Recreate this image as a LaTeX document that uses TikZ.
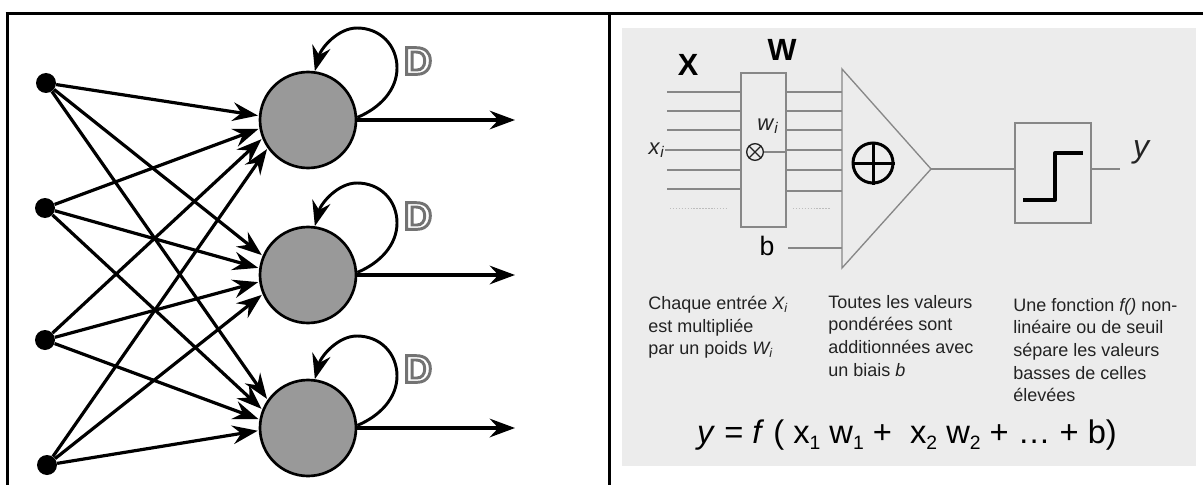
\documentclass[tikz,border=0pt]{standalone}
\usepackage{fontspec}
\setmainfont{Liberation Sans}
\usetikzlibrary{arrows.meta,calc}
\definecolor{panelbg}{RGB}{236,236,236}
\definecolor{wire}{RGB}{135,135,135}
\definecolor{neuron}{RGB}{153,153,153}
\definecolor{txt}{RGB}{35,35,35}
\newcommand\outlineD{{\color{white}\special{pdf:literal direct 2 Tr 0.45 0.45 0.45 RG 2.2 w}D\special{pdf:literal direct 0 Tr}}}
\newcommand\lowsub[1]{\raisebox{-0.19em}{\fontsize{14.5pt}{14.5pt}\selectfont #1}}
\newcommand\selfloop[2]{%
  \draw[loopst] (#1.3) .. controls ($(#1.center)+(72,-12)$) and ($(#1.center)+(89,-30)$) .. ($(#1.center)+(89,-52)$)
     .. controls ($(#1.center)+(89,-75)$) and ($(#1.center)+(72,-92)$) .. ($(#1.center)+(49,-92)$)
     .. controls ($(#1.center)+(30,-92)$) and ($(#1.center)+(13,-72)$) .. (#1.82);
  \node[dlabel] (#2) at ($(#1.center)+(110,-59)$) {\outlineD};}
\begin{document}
\begin{tikzpicture}[x=0.75pt,y=-0.75pt,
  tableline/.style={line width=2.25pt,black},
  inpt/.style={circle,fill=black,inner sep=0pt,minimum size=15pt},
  neu/.style={circle,draw=black,line width=2pt,fill=neuron,inner sep=0pt,minimum size=72pt},
  tip/.style={-{Stealth[length=19pt,width=14pt,inset=6.5pt]}},
  syn/.style={line width=2.4pt,tip,shorten >=0.75pt},
  outarr/.style={line width=2.4pt,tip},
  loopst/.style={line width=2.2pt,tip},
  dlabel/.style={inner sep=0pt,font=\bfseries\fontsize{29pt}{29pt}\selectfont},
  wire/.style={draw=wire,line width=1pt},
  dwire/.style={draw=wire!55,line width=0.75pt,dash pattern=on 1.1pt off 1.1pt},
  boxst/.style={draw=wire,line width=1pt,inner sep=0pt},
  bodytxt/.style={text=txt,align=left,inner sep=0pt,font=\fontsize{13.5pt}{17pt}\selectfont},
  lbl/.style={inner sep=0pt,text=txt},
  head/.style={inner sep=0pt,text=black,font=\bfseries\fontsize{23pt}{23pt}\selectfont},
]
\useasboundingbox (0,0) rectangle (1203,485);
\fill[white] (0,0) rectangle (1203,485);
% table
\coordinate (tl) at (5.5,14);
\coordinate (tr) at (1203,14);
\coordinate (lt) at (7,14);
\coordinate (lb) at (7,485);
\coordinate (mt) at (609,14);
\coordinate (mb) at (609,485);
\draw[tableline] (tl) -- (tr);
\draw[tableline] (lt) -- (lb);
\draw[tableline] (mt) -- (mb);
% ---------------- left panel
\node[inpt] (d1) at (46,83) {};
\node[inpt] (d2) at (45,208) {};
\node[inpt] (d3) at (45,340) {};
\node[inpt] (d4) at (47,465) {};
\node[neu] (c1) at (308,120) {};
\node[neu] (c2) at (308,275) {};
\node[neu] (c3) at (308,428) {};
\foreach \a [count=\i] in {175,190,202,215} \draw[syn] (d\i) -- (c1.\a);
\foreach \a [count=\i] in {157,172,188,203} \draw[syn] (d\i) -- (c2.\a);
\foreach \a [count=\i] in {145,158,170,183} \draw[syn] (d\i) -- (c3.\a);
\coordinate (o1) at (515,120);
\coordinate (o2) at (515,275);
\coordinate (o3) at (515,428);
\draw[outarr] (c1.east) -- (o1);
\draw[outarr] (c2.east) -- (o2);
\draw[outarr] (c3.east) -- (o3);
\selfloop{c1}{D1}
\selfloop{c2}{D2}
\selfloop{c3}{D3}
% ---------------- right panel
\fill[panelbg] (622,28) rectangle (1196,466);
\node[boxst,minimum width=33.75pt,minimum height=115.5pt] (wbox) at (763.5,150) {};
\node[head] (X) at (688,65) {X};
\node[head] (W) at (782,50) {W};
\foreach \y in {92,111,130,170,189} \draw[wire] (667,\y) -- (wbox.west |- 0,\y);
\node[lbl,anchor=east,font=\fontsize{16.5pt}{16.5pt}\selectfont] (xi) at (665,150) {\textit{x}\textsubscript{\textit{i}}};
\draw[wire] (xi.east |- 0,150) -- (wbox.west |- 0,150);
\draw[dwire] (670,208) -- (728,208);
\node[lbl,font=\fontsize{16.5pt}{16.5pt}\selectfont] (wi) at (768,126) {\textit{w}\textsubscript{\textit{i}}};
\node[circle,draw=txt,line width=1pt,minimum size=12.5pt,inner sep=0pt] (mul) at (755,152) {};
\draw[txt,line width=1pt] (mul.45) -- (mul.225) (mul.135) -- (mul.315);
\draw[wire] (mul.east) -- (wbox.east |- mul.east);
% summation triangle
\coordinate (ta) at (842,69);
\coordinate (tb) at (842,268);
\coordinate (apex) at (931,169);
\draw[wire,line join=miter] (ta) -- (apex) -- (tb) -- cycle;
\foreach \y in {92,111,130,150,170,191} \draw[wire] (wbox.east |- 0,\y) -- (ta |- 0,\y);
\draw[dwire] (793,208) -- (830,208);
\node[lbl,font=\fontsize{20pt}{20pt}\selectfont,text=black] (b) at (767,246) {b};
\draw[wire] (788,248) -- (ta |- 0,248);
\node[circle,draw=black,line width=2.25pt,minimum size=30pt,inner sep=0pt] (sum) at (873,163) {};
\draw[black,line width=2.25pt] (sum.north) -- (sum.south) (sum.west) -- (sum.east);
% step box
\node[boxst,minimum width=57pt,minimum height=75pt] (fbox) at (1053,173) {};
\draw[wire] (apex) -- (fbox.west |- apex);
\draw[black,line width=3pt,line join=round] (1023,200) -- (1055,200) -- (1055,153) -- (1083,153);
\coordinate (yend) at (1120,169);
\draw[wire] (fbox.east |- yend) -- (yend);
\node[lbl,font=\fontsize{24pt}{24pt}\selectfont] (y) at (1142,152) {\textit{y}};
% texts
\node[bodytxt,anchor=north west] (t1) at (648,296) {Chaque entrée \textit{X\textsubscript{i}}\\est multipliée\\par un poids \textit{W\textsubscript{i}}};
\node[bodytxt,anchor=north west] (t2) at (828,295) {Toutes les valeurs\\pondérées sont\\additionnées avec\\un biais \textit{b}};
\node[bodytxt,anchor=north west] (t3) at (1013,298) {Une fonction \textit{f()} non-\\linéaire ou de seuil\\sépare les valeurs\\basses de celles\\élevées};
\node[inner sep=0pt,anchor=base,text=black,font=\fontsize{24.5pt}{24.5pt}\selectfont] (eq) at (907,443) {\textit{y} = \textit{f} ( x\lowsub{1} w\lowsub{1} +\ \ x\lowsub{2} w\lowsub{2} + … + b)};
\end{tikzpicture}
\end{document}
